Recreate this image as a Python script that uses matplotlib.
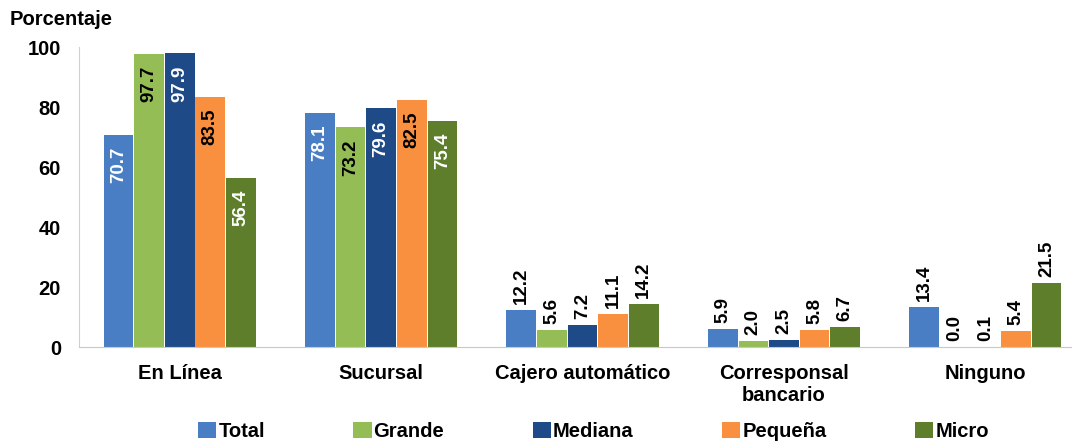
import numpy as np
import matplotlib.pyplot as plt

plt.rcParams['font.family'] = ['Liberation Sans', 'DejaVu Sans']
plt.rcParams['font.weight'] = 'bold'

categorias = ['En Línea', 'Sucursal', 'Cajero automático', 'Corresponsal\nbancario', 'Ninguno']
series = ['Total', 'Grande', 'Mediana', 'Pequeña', 'Micro']
total = [70.7, 78.1, 12.2, 5.9, 13.4]
grande = [97.7, 73.2, 5.6, 2.0, 0.0]
mediana = [97.9, 79.6, 7.2, 2.5, 0.1]
pequena = [83.5, 82.5, 11.1, 5.8, 5.4]
micro = [56.4, 75.4, 14.2, 6.7, 21.5]
valores = [total, grande, mediana, pequena, micro]

colores = ['#4A7EC4', '#94BE55', '#1E4B88', '#F8903F', '#5E7E2C']
color_texto = ['white', 'black', 'white', 'black', 'white']

fig = plt.figure(figsize=(10.72, 4.43), dpi=100)
ax = fig.add_axes([0.0737, 0.2167, 0.9263, 0.6772])

x = np.arange(len(categorias))
w = 0.152
for i, (nombre, vals) in enumerate(zip(series, valores)):
    pos = x + (i - 2) * w
    ax.bar(pos, vals, w * 0.97, color=colores[i], label=nombre)
    for j, (p, v) in enumerate(zip(pos, vals)):
        if j < 2:
            ax.text(p, v - 4, f'{v:.1f}', rotation=90, ha='center', va='top',
                    color=color_texto[i], fontsize=13.5, fontweight='bold')
        else:
            ax.text(p, v + 2, f'{v:.1f}', rotation=90, ha='center', va='bottom',
                    color='black', fontsize=13.5, fontweight='bold')

ax.set_xlim(-0.5, 4.43)
ax.set_ylim(0, 100)
ax.set_yticks([0, 20, 40, 60, 80, 100])
ax.set_xticks(x)
ax.set_xticklabels(categorias, fontsize=14.5, fontweight='bold')
ax.tick_params(axis='y', labelsize=14.5, length=0, pad=13)
ax.tick_params(axis='x', length=0, pad=12)
for s in ['top', 'right']:
    ax.spines[s].set_visible(False)
ax.spines['left'].set_color('#D0D0D0')
ax.spines['bottom'].set_color('#C8C8C8')

fig.text(0.009, 0.9436, 'Porcentaje', fontsize=14.5, fontweight='bold', va='baseline')

fig.legend(*ax.get_legend_handles_labels(), loc='center', bbox_to_anchor=(0.5536, 0.027),
           ncol=5, frameon=False, fontsize=14.5, handlelength=0.9, handleheight=0.85,
           handletextpad=0.1, columnspacing=4.4)

fig.savefig('out.png', dpi=100)
